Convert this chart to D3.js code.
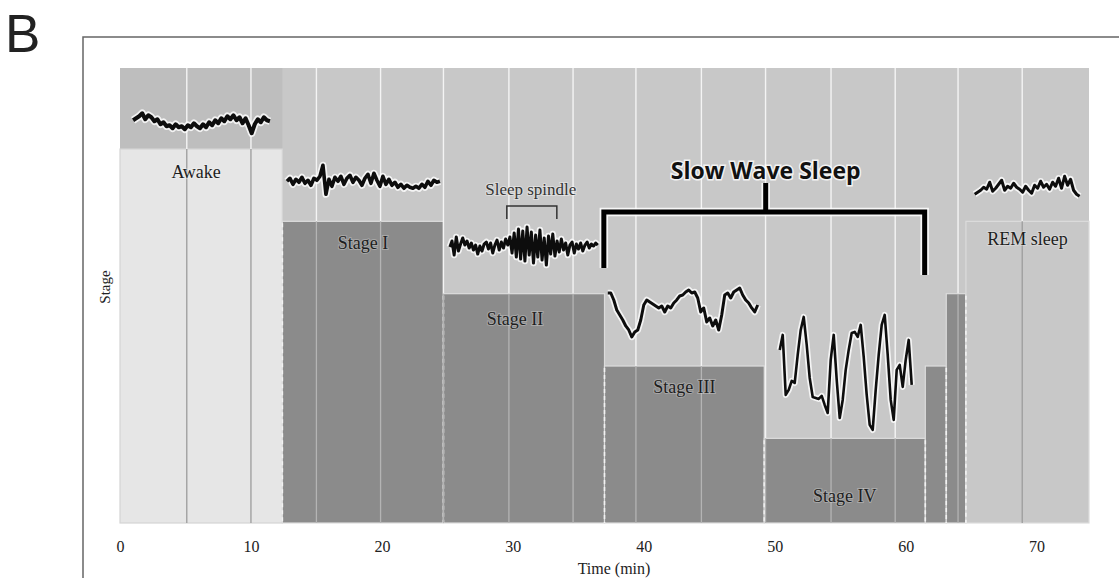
<!DOCTYPE html>
<html>
<head>
<meta charset="utf-8">
<script src="https://cdn.jsdelivr.net/npm/d3@7"></script>
<style>
  body { margin: 0; background: #fff; }
  #chart { width: 1119px; height: 578px; }
  .serif { font-family: "Liberation Serif", "DejaVu Serif", serif; fill: #222; }
</style>
</head>
<body>
<div id="chart"></div>
<script>
// hypnogram segments (time in min, depth level: IV=1 ... Awake=5)
const stageNames = ["Awake", "Stage I", "Stage II", "Stage III", "Stage IV", "Stage III", "Stage II", "REM sleep"];
const stageStart = [0, 12.4, 24.7, 37, 49.2, 61.5, 63.1, 64.6];
const stageEnd = [12.4, 24.7, 37, 49.2, 61.5, 63.1, 64.6, 74];
const stageLevel = [5, 4, 3, 2, 1, 2, 3, 4];
const stageLabelled = [true, true, true, true, true, false, false, true];

const timeTicks = [0, 10, 20, 30, 40, 50, 60, 70];
// vertical grid lines as drawn in the figure (not exactly on the ticks)
const gridTimes = [5.1, 10, 15, 19.9, 24.7, 29.7, 34.6, 39.4, 44.4, 49.3, 54.3, 59.2, 64, 68.9];

// EEG traces (relative amplitude, up = positive)
const eegAwake = [2, 4, 6, 9, 3, 7, 5, 1, 3, -2, 0, -4, -3, -6, -2, -5, -4, -7, -3, -5, -1, -4, -6, -2, -5, 0, -3, 2, -1, 4, 1, 6, 3, 7, 2, 5, -1, 4, -3, -11, -2, 3, 0, 5, 2, 1];
const eegStage1 = [1, 4, -2, 3, 0, 5, -1, 2, -3, 4, 2, 6, 17, -12, 3, -4, 5, 1, 6, -2, 4, 7, 0, 5, 2, -3, 4, 8, -1, 9, 2, -4, 6, -2, 3, -3, 0, -5, -2, -6, -3, -5, -6, -4, -6, -2, -5, 1, -3, 2, 0, 1];
const eegStage2 = [0, 6, -8, 10, -4, 3, 9, 2, 6, -1, 4, -3, 2, -7, 1, -4, 3, 5, -2, 4, -6, 2, 7, -3, 5, -1, 8, 2, 10, -6, 14, -10, 18, -12, 16, -14, 20, -8, 15, -16, 12, -10, 17, -13, 9, -18, 11, -7, 13, -9, 6, -5, 8, -3, 4, -8, 2, 5, -6, 3, -2, 4, -4, 2, 5, -1, 3, 1, 4, 2];
const eegStage3 = [17, 17, 10, 0, -5, -10, -16, -20, -27, -22, -20, -10, 5, 10, 8, 6, 4, 2, 4, -2, 4, 2, 7, 10, 14, 15, 18, 20, 17, 18, 12, -2, 2, -12, -8, -16, -10, -20, -5, 15, 17, 12, 18, 20, 22, 15, 10, 7, 2, -2, 5];
const eegStage4 = [25, 40, -20, -15, -6, -8, 20, 45, 58, 30, -3, -22, -23, -24, -21, -30, -38, 15, 40, -5, -43, -25, 5, 25, 42, 43, 38, 50, 18, -20, -50, -55, -15, 20, 50, 60, 20, -25, -45, 5, 10, -12, 15, 35, -10];
const eegRem = [-4, -2, 0, 3, 1, 8, -1, 2, 6, 10, 0, 4, 2, 7, 3, 1, -2, 4, 0, -3, 5, 2, 9, 3, 6, 1, 8, 4, 12, 2, 14, 5, 11, 0, -4, -6];

class SleepVis {
  constructor(parentElement) {
    this.parentElement = parentElement;
    this.initVis();
  }

  initVis() {
    let vis = this;
    vis.width = 1119;
    vis.height = 578;

    vis.svg = d3.select("#" + vis.parentElement).append("svg")
      .attr("width", vis.width)
      .attr("height", vis.height);

    vis.x = d3.scaleLinear().domain([0, 74]).range([120, 1089]);
    vis.y = d3.scaleLinear().domain([-0.17, 6.12]).range([523, 68]);
    vis.amp = d3.scaleLinear().domain([-1, 1]).range([1, -1]);

    // panel letter + frame
    vis.svg.append("text")
      .attr("x", 5).attr("y", 52)
      .style("font-family", "Liberation Sans, Arial, sans-serif")
      .style("font-size", "53px")
      .style("fill", "#222")
      .text("B");

    vis.svg.append("path")
      .attr("d", "M1119,37H83V578")
      .attr("fill", "none")
      .attr("stroke", "#666")
      .attr("stroke-width", 1.5);

    vis.segments = stageNames.map((name, i) => ({
      name: name, start: stageStart[i], end: stageEnd[i],
      level: stageLevel[i], labelled: stageLabelled[i]
    }));

    vis.drawBackground();
    vis.drawBars();
    vis.drawGrid();
    vis.drawTraces();
    vis.drawAnnotations();
    vis.drawAxes();
  }

  drawBackground() {
    let vis = this;
    vis.svg.append("rect")
      .attr("x", vis.x(0)).attr("y", vis.y(6.12))
      .attr("width", vis.x(74) - vis.x(0))
      .attr("height", vis.y(-0.17) - vis.y(6.12))
      .attr("fill", "#c8c8c8");
    // slightly darker band above the awake column
    vis.svg.append("rect")
      .attr("x", vis.x(0)).attr("y", vis.y(6.12))
      .attr("width", vis.x(stageEnd[0]) - vis.x(0))
      .attr("height", vis.y(stageLevel[0]) - vis.y(6.12))
      .attr("fill", "#bebebe");
  }

  barFill(d) {
    if (d.name === "Awake") return "#e6e6e6";
    if (d.name === "REM sleep") return "#c8c8c8";
    return "#8b8b8b";
  }

  drawBars() {
    let vis = this;
    vis.svg.append("g").attr("class", "bars")
      .selectAll("rect")
      .data(vis.segments)
      .enter()
      .append("rect")
      .attr("x", d => vis.x(d.start))
      .attr("y", d => vis.y(d.level))
      .attr("width", d => vis.x(d.end) - vis.x(d.start))
      .attr("height", d => vis.y(-0.17) - vis.y(d.level))
      .attr("fill", d => vis.barFill(d))
      .attr("stroke", d => d.name === "Awake" ? "#d4d4d4" : "#dcdcdc")
      .attr("stroke-width", 1.2);

    // dashed white boundaries between stages
    let bounds = vis.segments.slice(1).map((d, i) => ({
      t: d.start,
      level: Math.min(d.level, vis.segments[i].level)
    }));
    vis.svg.append("g").selectAll("line")
      .data(bounds)
      .enter()
      .append("line")
      .attr("x1", d => vis.x(d.t)).attr("x2", d => vis.x(d.t))
      .attr("y1", d => vis.y(d.level) + 2)
      .attr("y2", vis.y(-0.17))
      .attr("stroke", "#f2f2f2")
      .attr("stroke-width", 1.6)
      .attr("stroke-dasharray", "4,3");
  }

  drawGrid() {
    let vis = this;
    let grid = gridTimes.map(t => {
      let seg = vis.segments.find(s => t >= s.start && t < s.end) || vis.segments[vis.segments.length - 1];
      return { t: t, seg: seg };
    });
    let g = vis.svg.append("g").attr("class", "grid");
    // upper part, on the background
    g.selectAll(".up").data(grid).enter().append("line")
      .attr("x1", d => vis.x(d.t)).attr("x2", d => vis.x(d.t))
      .attr("y1", vis.y(6.12)).attr("y2", d => vis.y(d.seg.level))
      .attr("stroke", "#f4f4f4").attr("stroke-width", 1.4);
    // lower part, inside the bars
    g.selectAll(".low").data(grid).enter().append("line")
      .attr("x1", d => vis.x(d.t)).attr("x2", d => vis.x(d.t))
      .attr("y1", d => vis.y(d.seg.level)).attr("y2", vis.y(-0.17))
      .attr("stroke", d => (d.seg.name === "Awake" || d.seg.name === "REM sleep") ? "#9c9c9c" : "#b4b4b4")
      .attr("stroke-width", 1.3);
  }

  drawTraces() {
    let vis = this;
    let traces = [
      { values: eegAwake, t0: 1.0, t1: 11.45, level: 5.37, w: 4 },
      { values: eegStage1, t0: 12.75, t1: 24.43, level: 4.54, w: 3.6 },
      { values: eegStage2, t0: 25.19, t1: 36.49, level: 3.645, w: 3 },
      { values: eegStage3, t0: 37.25, t1: 48.7, level: 2.775, w: 3 },
      { values: eegStage4, t0: 50.38, t1: 60.46, level: 1.877, w: 2.6 },
      { values: eegRem, t0: 65.27, t1: 73.28, level: 4.43, w: 3 }
    ];

    traces.forEach(tr => {
      let xi = d3.scaleLinear().domain([0, tr.values.length - 1]).range([tr.t0, tr.t1]);
      let line = d3.line()
        .x((d, i) => vis.x(xi(i)))
        .y(d => vis.y(tr.level) + vis.amp(d))
        .curve(d3.curveLinear);
      vis.svg.append("path")
        .attr("d", line(tr.values))
        .attr("fill", "none")
        .attr("stroke", "#ffffff")
        .attr("stroke-opacity", 0.8)
        .attr("stroke-width", tr.w + 3.5)
        .attr("stroke-linejoin", "round");
      vis.svg.append("path")
        .attr("d", line(tr.values))
        .attr("fill", "none")
        .attr("stroke", "#0d0d0d")
        .attr("stroke-width", tr.w)
        .attr("stroke-linejoin", "round");
    });
  }

  drawAnnotations() {
    let vis = this;
    // stage labels, placed below each bar top
    let labelOffsets = {
      "Awake": { dx: -5, dy: 29 }, "Stage I": { dx: 0, dy: 28 },
      "Stage II": { dx: -9, dy: 31 }, "Stage III": { dx: 0, dy: 27 },
      "Stage IV": { dx: 0, dy: 64 }, "REM sleep": { dx: 0, dy: 24 }
    };
    vis.svg.append("g").selectAll("text")
      .data(vis.segments.filter(d => d.labelled))
      .enter()
      .append("text")
      .attr("class", "serif")
      .attr("x", d => vis.x((d.start + d.end) / 2) + labelOffsets[d.name].dx)
      .attr("y", d => vis.y(d.level) + labelOffsets[d.name].dy)
      .attr("text-anchor", "middle")
      .style("font-size", "18px")
      .style("fill", "#1e1e1e")
      .style("paint-order", "stroke")
      .style("stroke", "rgba(255,255,255,0.25)")
      .style("stroke-width", "2px")
      .text(d => d.name);

    // sleep spindle bracket
    vis.svg.append("text")
      .attr("class", "serif")
      .attr("x", vis.x(31.37)).attr("y", 195)
      .attr("text-anchor", "middle")
      .style("font-size", "17px")
      .style("fill", "#333")
      .style("paint-order", "stroke")
      .style("stroke", "rgba(255,255,255,0.4)")
      .style("stroke-width", "2px")
      .text("Sleep spindle");
    vis.svg.append("path")
      .attr("d", `M${vis.x(29.54)},219V206H${vis.x(33.36)}V219`)
      .attr("fill", "none").attr("stroke", "#333").attr("stroke-width", 1.5);

    // slow wave sleep bracket
    let bracket = `M${vis.x(36.95)},268V212H${vis.x(61.45)}V275M${vis.x(49.31)},212V183`;
    vis.svg.append("path")
      .attr("d", bracket)
      .attr("fill", "none").attr("stroke", "#fff").attr("stroke-opacity", 0.85)
      .attr("stroke-width", 8.5);
    vis.svg.append("path")
      .attr("d", bracket)
      .attr("fill", "none").attr("stroke", "#000")
      .attr("stroke-width", 5);
    vis.svg.append("text")
      .attr("x", vis.x(49.31)).attr("y", 179)
      .attr("text-anchor", "middle")
      .style("font-family", "Open Sans, DejaVu Sans, sans-serif")
      .style("font-weight", "700")
      .style("font-size", "23px")
      .style("fill", "#111")
      .style("paint-order", "stroke")
      .style("stroke", "rgba(255,255,255,0.8)")
      .style("stroke-width", "3px")
      .text("Slow Wave Sleep");
  }

  drawAxes() {
    let vis = this;
    let xAxis = d3.axisBottom(vis.x).tickValues(timeTicks).tickSize(0).tickPadding(18);
    let ax = vis.svg.append("g")
      .attr("transform", `translate(0, ${vis.y(-0.17)})`)
      .call(xAxis);
    ax.select(".domain").remove();
    ax.selectAll("text")
      .attr("class", "serif")
      .style("font-size", "16px")
      .style("fill", "#222");

    vis.svg.append("text")
      .attr("class", "serif")
      .attr("x", 614).attr("y", 574)
      .attr("text-anchor", "middle")
      .style("font-size", "16px")
      .text("Time (min)");

    vis.svg.append("text")
      .attr("class", "serif")
      .attr("transform", "translate(110, 287) rotate(-90)")
      .attr("text-anchor", "middle")
      .style("font-size", "15px")
      .text("Stage");
  }
}

new SleepVis("chart");
</script>
</body>
</html>
